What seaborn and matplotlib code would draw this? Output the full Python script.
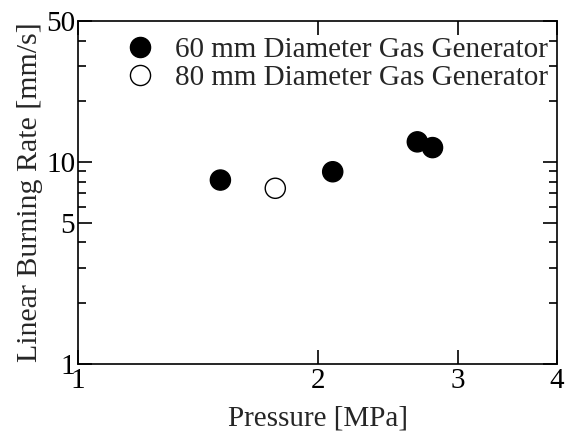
import pandas as pd
import numpy as np
import matplotlib.pyplot as plt
import seaborn as sns
from matplotlib.ticker import FixedLocator, NullFormatter, FixedFormatter

# datos
presion_60 = [1.51, 2.09, 2.67, 2.79]
tasa_60 = [8.15, 8.96, 12.6, 11.8]
presion_80 = [1.77]
tasa_80 = [7.42]
etiquetas = ['60 mm Diameter Gas Generator', '80 mm Diameter Gas Generator']

df = pd.DataFrame({
    'Pressure': presion_60 + presion_80,
    'Rate': tasa_60 + tasa_80,
    'grupo': [etiquetas[0]] * len(presion_60) + [etiquetas[1]] * len(presion_80),
})

sns.set_style('ticks')
plt.rcParams['font.family'] = ['Liberation Serif', 'DejaVu Serif']

fig = plt.figure(figsize=(5.65, 4.33), dpi=100)
ax = fig.add_axes([78 / 565, 1 - 364 / 433, (557 - 78) / 565, (364 - 21) / 433])

sns.scatterplot(data=df, x='Pressure', y='Rate', hue='grupo', style='grupo',
                palette={etiquetas[0]: 'black', etiquetas[1]: 'white'},
                markers={etiquetas[0]: 'o', etiquetas[1]: 'o'},
                edgecolor='black', linewidth=1, s=210, ax=ax, zorder=3)

ax.set_xscale('log')
ax.set_yscale('log')
ax.set_xlim(1, 4)
ax.set_ylim(1, 50)

ax.xaxis.set_major_locator(FixedLocator([1, 2, 3, 4]))
ax.xaxis.set_major_formatter(FixedFormatter(['1', '2', '3', '4']))
ax.xaxis.set_minor_locator(FixedLocator([]))
ax.yaxis.set_major_locator(FixedLocator([1, 5, 10, 50]))
ax.yaxis.set_major_formatter(FixedFormatter(['1', '5', '10', '50']))
ax.yaxis.set_minor_locator(FixedLocator([2, 3, 4, 6, 7, 8, 9, 20, 30, 40]))
ax.yaxis.set_minor_formatter(NullFormatter())

ax.tick_params(which='both', direction='in', top=True, right=True, labelsize=21, colors='black')
ax.tick_params(which='major', length=10, width=1.2)
ax.tick_params(which='minor', length=6, width=1.2)
ax.tick_params(axis='x', pad=3)
ax.tick_params(axis='y', pad=2)

for sp in ax.spines.values():
    sp.set_visible(True)
    sp.set_color('black')
    sp.set_linewidth(1.2)

ax.set_xlabel('Pressure [MPa]', fontsize=21, labelpad=8)
ax.set_ylabel('Linear Burning Rate [mm/s]', fontsize=21.5, labelpad=2)

ax.legend(loc='upper left', bbox_to_anchor=(0.031, 1.006), frameon=False, fontsize=21,
          handletextpad=0.2, labelspacing=0.05, markerscale=1.0, borderaxespad=0.2)

fig.savefig('out.png', dpi=100)
